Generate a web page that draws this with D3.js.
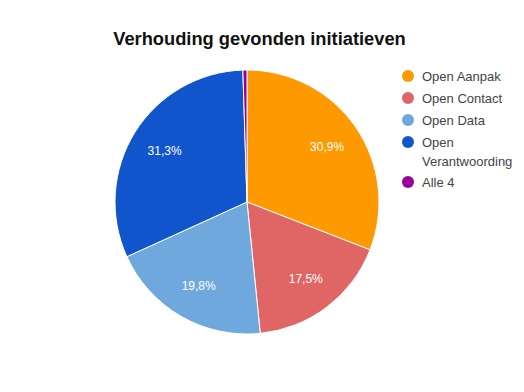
<!DOCTYPE html>
<html>
<head>
<meta charset="utf-8">
<script src="https://cdn.jsdelivr.net/npm/d3@7"></script>
<style>
  html, body { margin: 0; padding: 0; background: #fff; }
  svg { display: block; font-family: "Liberation Sans", Arial, sans-serif; }
</style>
</head>
<body>
<svg id="chart" width="524" height="392"></svg>
<script>
const title = "Verhouding gevonden initiatieven";
const categories = ["Open Aanpak", "Open Contact", "Open Data", "Open Verantwoording", "Alle 4"];
const values = [30.9, 17.5, 19.8, 31.3, 0.5];
const labels = ["30,9%", "17,5%", "19,8%", "31,3%", ""];
const colors = ["#ff9900", "#e06666", "#6fa8dc", "#1155cc", "#990099"];
const legendLines = [["Open Aanpak"], ["Open Contact"], ["Open Data"], ["Open", "Verantwoording"], ["Alle 4"]];

const svg = d3.select("#chart");
const cx = 247, cy = 202, R = 132;

svg.append("text")
  .attr("x", 259.5).attr("y", 45)
  .attr("text-anchor", "middle")
  .attr("font-size", 18.3).attr("font-weight", "bold")
  .attr("fill", "#111")
  .text(title);

const color = d3.scaleOrdinal().domain(categories).range(colors);
const pie = d3.pie().value(d => d.v).sort(null);
const data = categories.map((c, i) => ({ c, v: values[i], l: labels[i] }));
const arcs = pie(data);
const arc = d3.arc().innerRadius(0).outerRadius(R);
const labelArc = d3.arc().innerRadius(R * 0.735).outerRadius(R * 0.735);

const g = svg.append("g").attr("transform", `translate(${cx},${cy})`);
g.selectAll("path").data(arcs).join("path")
  .attr("d", arc)
  .attr("fill", d => color(d.data.c))
  .attr("stroke", "#fff").attr("stroke-width", 1);

g.selectAll("text").data(arcs.filter(d => d.data.l)).join("text")
  .attr("transform", d => `translate(${labelArc.centroid(d)})`)
  .attr("text-anchor", "middle").attr("dy", "0.35em")
  .attr("font-size", 12).attr("fill", "#fff")
  .text(d => d.data.l);

// legend
const lx = 408, textX = 422;
const ys = [76, 98, 120, 142, 182];
const lg = svg.append("g");
categories.forEach((c, i) => {
  lg.append("circle").attr("cx", lx).attr("cy", ys[i]).attr("r", 6).attr("fill", color(c));
  const t = lg.append("text").attr("x", textX).attr("y", ys[i] + 4.5)
    .attr("font-size", 13).attr("fill", "#444");
  legendLines[i].forEach((line, j) => {
    t.append("tspan").attr("x", textX).attr("dy", j === 0 ? 0 : 19).text(line);
  });
});
</script>
</body>
</html>
